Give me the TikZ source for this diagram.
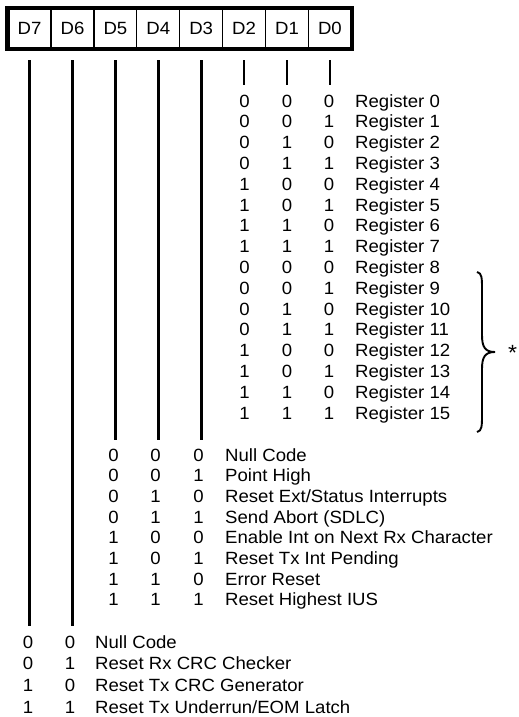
\documentclass[tikz,border=0pt]{standalone}
\usepackage{fontspec}
\setmainfont{Liberation Sans}[FakeStretch=1.05]
\usetikzlibrary{positioning}

\tikzset{
  cell/.style={draw, line width=1.2pt, minimum width=42.9pt, minimum height=40pt, inner sep=0pt},
  bitline/.style={line width=2.7pt},
  bitval/.style={anchor=base, inner sep=0pt},
  meaning/.style={anchor=base west, inner sep=0pt},
}

\begin{document}
\begin{tikzpicture}[x=1pt, y=-1pt, font=\fontsize{17.7}{20}\selectfont]
\useasboundingbox (0,0) rectangle (519,717);

% bit cells D7..D0
\foreach \b [count=\i from 0] in {7,...,0}
  \node[cell] (d\b) at ({29.6+42.9*\i}, 28.7) {D\b};
\draw[line width=4.3pt] (d7.north west) rectangle (d0.south east);

% bit lines
\foreach \b/\len in {7/566, 6/566, 5/380, 4/380, 3/380, 2/25, 1/25, 0/25} {
  \coordinate (top\b) at ([yshift=-11pt]d\b.south);
  \coordinate (end\b) at ([yshift=-\len pt]top\b);
  \draw[bitline] (top\b) -- (end\b);
}

% register pointer D2..D0
\foreach \r [evaluate=\r as \bhi using {int(mod(\r,8)/4)},
             evaluate=\r as \bmid using {int(mod(\r,4)/2)},
             evaluate=\r as \blo using {int(mod(\r,2))},
             evaluate=\r as \y using {107+20.8*\r}] in {0,...,15} {
  \node[bitval] (rhi\r) at (244.5,\y) {\bhi};
  \node[bitval] (rmid\r) at (287,\y) {\bmid};
  \node[bitval] (rlo\r) at (329,\y) {\blo};
  \node[meaning] (reg\r) at (355,\y) {Register \r};
}

% high registers brace
\coordinate (btop) at (477,272);
\coordinate (btip) at (495,352);
\coordinate (bbot) at (477,432);
\draw[line width=1.9pt] (btop) .. controls (482,273) and (482,278) .. (482,290)
  -- (482,335) .. controls (482,347) and (485,352) .. (btip)
  .. controls (485,352) and (482,357) .. (482,369)
  -- (482,414) .. controls (482,426) and (482,431) .. (bbot);
\node[inner sep=0pt, right=13pt of btip, yshift=-1pt, font=\fontsize{22}{24}\selectfont] (star) {*};

% commands D5..D3
\foreach \r/\hi/\mid/\lo/\txt in {0/0/0/0/{Null Code}, 1/0/0/1/{Point High},
    2/0/1/0/{Reset Ext/Status Interrupts}, 3/0/1/1/{Send Abort (SDLC)},
    4/1/0/0/{Enable Int on Next Rx Character}, 5/1/0/1/{Reset Tx Int Pending},
    6/1/1/0/{Error Reset}, 7/1/1/1/{Reset Highest IUS}} {
  \node[bitval] (chi\r) at (113.5,461+20.7*\r) {\hi};
  \node[bitval] (cmid\r) at (155.5,461+20.7*\r) {\mid};
  \node[bitval] (clo\r) at (198.5,461+20.7*\r) {\lo};
  \node[meaning] (cmd\r) at (225,461+20.7*\r) {\txt};
}

% CRC reset codes D7..D6
\foreach \r/\hi/\lo/\txt in {0/0/0/{Null Code}, 1/0/1/{Reset Rx CRC Checker},
    2/1/0/{Reset Tx CRC Generator}, 3/1/1/{Reset Tx Underrun/EOM Latch}} {
  \node[bitval] (khi\r) at (28,648+21.7*\r) {\hi};
  \node[bitval] (klo\r) at (70,648+21.7*\r) {\lo};
  \node[meaning] (crc\r) at (95,648+21.7*\r) {\txt};
}
\end{tikzpicture}
\end{document}
